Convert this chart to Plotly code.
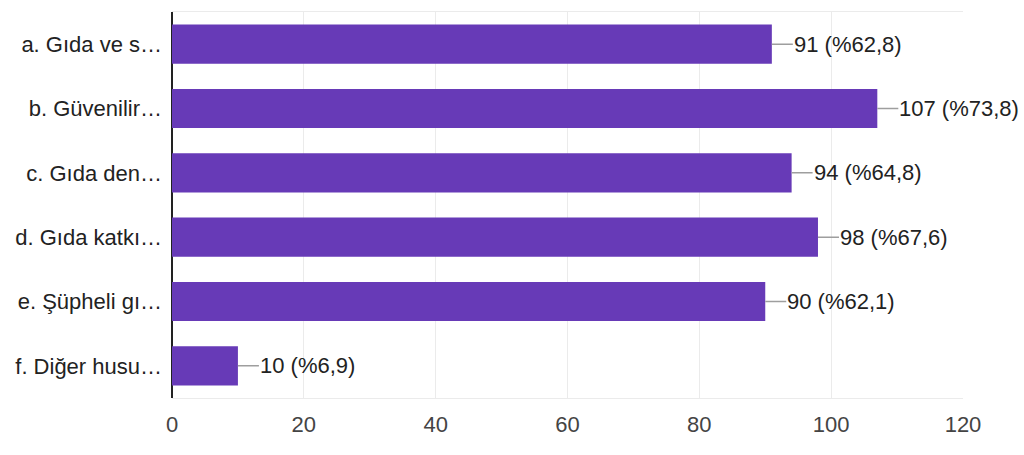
import plotly.graph_objects as go

categories = ["a. Gıda ve s…", "b. Güvenilir…", "c. Gıda den…", "d. Gıda katkı…", "e. Şüpheli gı…", "f. Diğer husu…"]
values = [91, 107, 94, 98, 90, 10]
percents = ["62,8", "73,8", "64,8", "67,6", "62,1", "6,9"]
x_ticks = [0, 20, 40, 60, 80, 100, 120]

bar_color = "#673ab7"
font_family = "Liberation Sans, Arial, sans-serif"

fig = go.Figure()
fig.add_trace(go.Bar(
    x=values, y=categories, orientation="h",
    marker=dict(color=bar_color, line=dict(width=0)),
    hoverinfo="skip",
))

for v, c, p in zip(values, categories, percents):
    fig.add_annotation(
        x=v, y=c, xref="x", yref="y",
        text=f"{v} (%{p})",
        showarrow=True, arrowhead=0, arrowwidth=1.5, arrowcolor="#9e9e9e",
        ax=21, ay=0, xanchor="left", yanchor="middle",
        font=dict(family=font_family, size=22, color="#222222"),
        borderpad=0, standoff=0, startstandoff=0,
    )

fig.update_layout(
    width=1024, height=455,
    margin=dict(l=172, r=61, t=12, b=57, autoexpand=False),
    paper_bgcolor="white", plot_bgcolor="white",
    bargap=0.39,
    showlegend=False,
    font=dict(family=font_family, size=22, color="#222222"),
    xaxis=dict(
        range=[0, 120], tickvals=x_ticks, ticktext=[str(t) for t in x_ticks],
        showgrid=True, gridcolor="#ebebeb", gridwidth=1,
        zeroline=True, zerolinecolor="#222222", zerolinewidth=2,
        showline=True, linecolor="#ebebeb", linewidth=1, mirror=True,
        ticks="", tickfont=dict(size=22, color="#444444"),
        ticklabelstandoff=7, fixedrange=True, automargin=False,
    ),
    yaxis=dict(
        categoryorder="array", categoryarray=categories[::-1],
        showgrid=False, zeroline=False, showline=False,
        ticks="", tickfont=dict(size=22, color="#222222"),
        ticklabelstandoff=9, fixedrange=True, automargin=False,
    ),
)

fig.write_html(
    "out.html",
    config={"displayModeBar": False, "staticPlot": True},
    post_script="document.body.style.margin='0';document.body.style.overflow='hidden';",
)
